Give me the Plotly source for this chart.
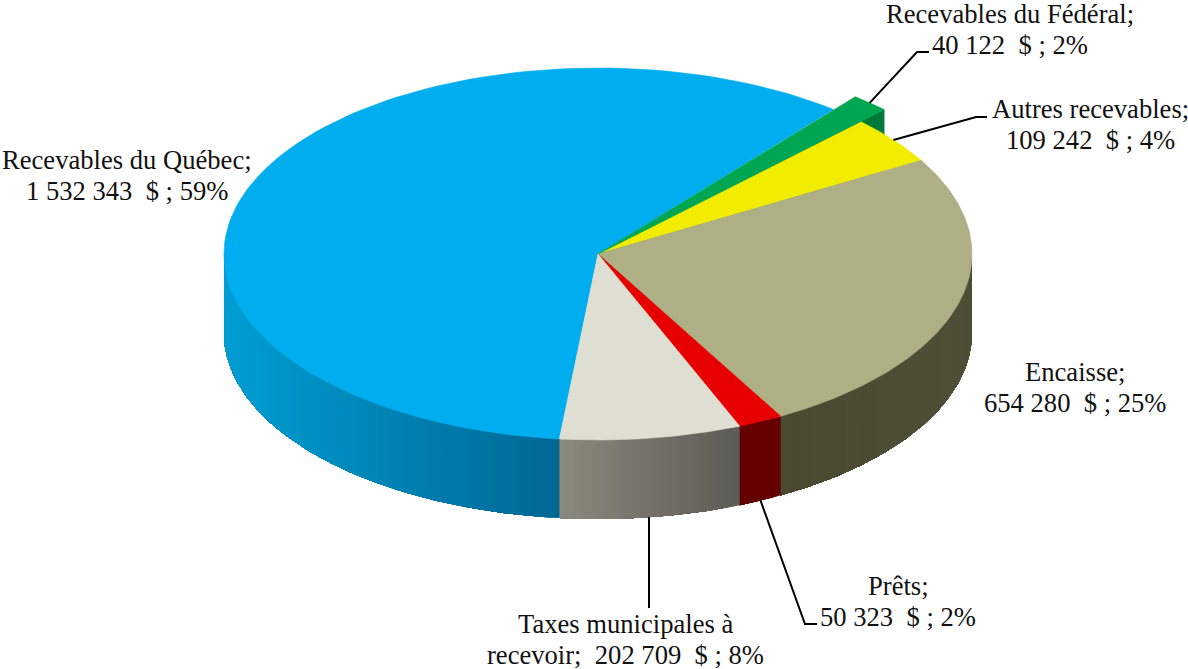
import numpy as np
import plotly.graph_objects as go

# values in $, clockwise from the first slice
categories = ["Recevables du Fédéral", "Autres recevables", "Encaisse", "Prêts",
              "Taxes municipales à recevoir", "Recevables du Québec"]
values = [40122, 109242, 654280, 50323, 202709, 1532343]
value_labels = ["40 122", "109 242", "654 280", "50 323", "202 709", "1 532 343"]
percent_labels = ["2%", "4%", "25%", "2%", "8%", "59%"]

top_colors = ["#00A651", "#F2ED00", "#AFAF85", "#E60000", "#DEDED2", "#00ADEE"]
side_left = [(0, 122, 59), (150, 150, 0), (74, 74, 50), (100, 0, 0), (138, 138, 126), (0, 158, 212)]
side_right = [(0, 122, 59), (150, 150, 0), (80, 80, 56), (100, 0, 0), (92, 92, 86), (0, 104, 148)]

# pie geometry in pixels
CX, CY = 598, 254
RX, RY = 374, 186
DEPTH = 79
FIRST_ANGLE = 39
FEDERAL_SCALE = 1.09
LINE_GAP = 30.5
FONT = dict(family="Liberation Serif", size=26.6, color="#111111")


def px(angle, scale=1.0, drop=0.0):
    a = np.radians(angle)
    return CX + RX * scale * np.sin(a), CY - RY * scale * np.cos(a) + drop


def add_poly(fig, x, y, color, width=0.6):
    fig.add_trace(go.Scatter(x=x, y=y, mode="lines", fill="toself", fillcolor=color,
                             line=dict(color=color, width=width), hoverinfo="skip", showlegend=False))


shares = np.array(values) / sum(values)
edges = FIRST_ANGLE + np.concatenate([[0], np.cumsum(shares)]) * 360
mids = (edges[:-1] + edges[1:]) / 2
scales = [FEDERAL_SCALE, 1, 1, 1, 1, 1]

fig = go.Figure()

# cut face of the pulled-out slice goes first, the other tops cover most of it
ox, oy = px(edges[1], FEDERAL_SCALE)
add_poly(fig, [CX, ox, ox, CX], [CY, oy, oy + DEPTH, CY + DEPTH], "rgb(0,122,59)")

# outer wall, front half only, shaded left to right
# each strip runs on to the end of the slice and the next one paints over it, so no seams
for i in range(len(values)):
    start, end = edges[i], edges[i + 1]
    start, end = max(start, 90), min(end, 270)
    if start >= end:
        continue
    steps = np.linspace(start, end, max(2, int((end - start) / 0.5) + 1))
    x0, x1 = px(end)[0], px(start)[0]
    for j in range(len(steps) - 1):
        arc = steps[j:]
        xs, ys = px(arc)
        t = ((xs[0] + xs[1]) / 2 - x0) / (x1 - x0)
        c = [side_left[i][k] + (side_right[i][k] - side_left[i][k]) * t for k in range(3)]
        add_poly(fig, np.r_[xs, xs[::-1]], np.r_[ys, (ys + DEPTH)[::-1]],
                 "rgb(%d,%d,%d)" % tuple(c), width=0)

# top faces, the pulled-out slice last
for i in [5, 1, 2, 3, 4, 0]:
    ang = np.linspace(edges[i], edges[i + 1], 120)
    xs, ys = px(ang, scales[i])
    add_poly(fig, np.r_[CX, xs, CX], np.r_[CY, ys, CY], top_colors[i])

# leader lines, starting on the slice they belong to
leaders = [
    (px(mids[0], FEDERAL_SCALE), [917, 929], [52, 52]),
    (px(mids[1]), [976, 987], [117, 117]),
    (px(mids[3], 1, DEPTH), [805, 817], [624, 624]),
    ((649, px(mids[4], 1, DEPTH)[1]), [649], [608]),
]
for (sx, sy), lx, ly in leaders:
    fig.add_trace(go.Scatter(x=[sx] + lx, y=[sy] + ly, mode="lines",
                             line=dict(color="black", width=2),
                             hoverinfo="skip", showlegend=False))

# centres of the two label lines in pixels, same order as categories
label_x = [1010, 1090, 1075, 898, 625, 127]
label_y = [14, 109, 372, 586, 624, 160]
for i, name in enumerate(categories):
    money = value_labels[i] + "\u00a0\u00a0$ ; " + percent_labels[i]
    if i == 4:
        lines = ["Taxes municipales à", "recevoir;\u00a0\u00a0" + money]
    else:
        lines = [name + ";", money]
    for n, text in enumerate(lines):
        fig.add_annotation(x=label_x[i], y=label_y[i] + n * LINE_GAP, text=text, showarrow=False,
                           font=FONT, xanchor="center", yanchor="middle")

fig.update_layout(
    width=1188, height=669,
    margin=dict(l=0, r=0, t=0, b=0),
    paper_bgcolor="white", plot_bgcolor="white",
    showlegend=False,
    xaxis=dict(range=[0, 1188], visible=False, fixedrange=True),
    yaxis=dict(range=[669, 0], visible=False, fixedrange=True),
)
fig.write_html("out.html", config={"displayModeBar": False},
               post_script="document.body.style.margin='0';document.body.style.overflow='hidden';")
